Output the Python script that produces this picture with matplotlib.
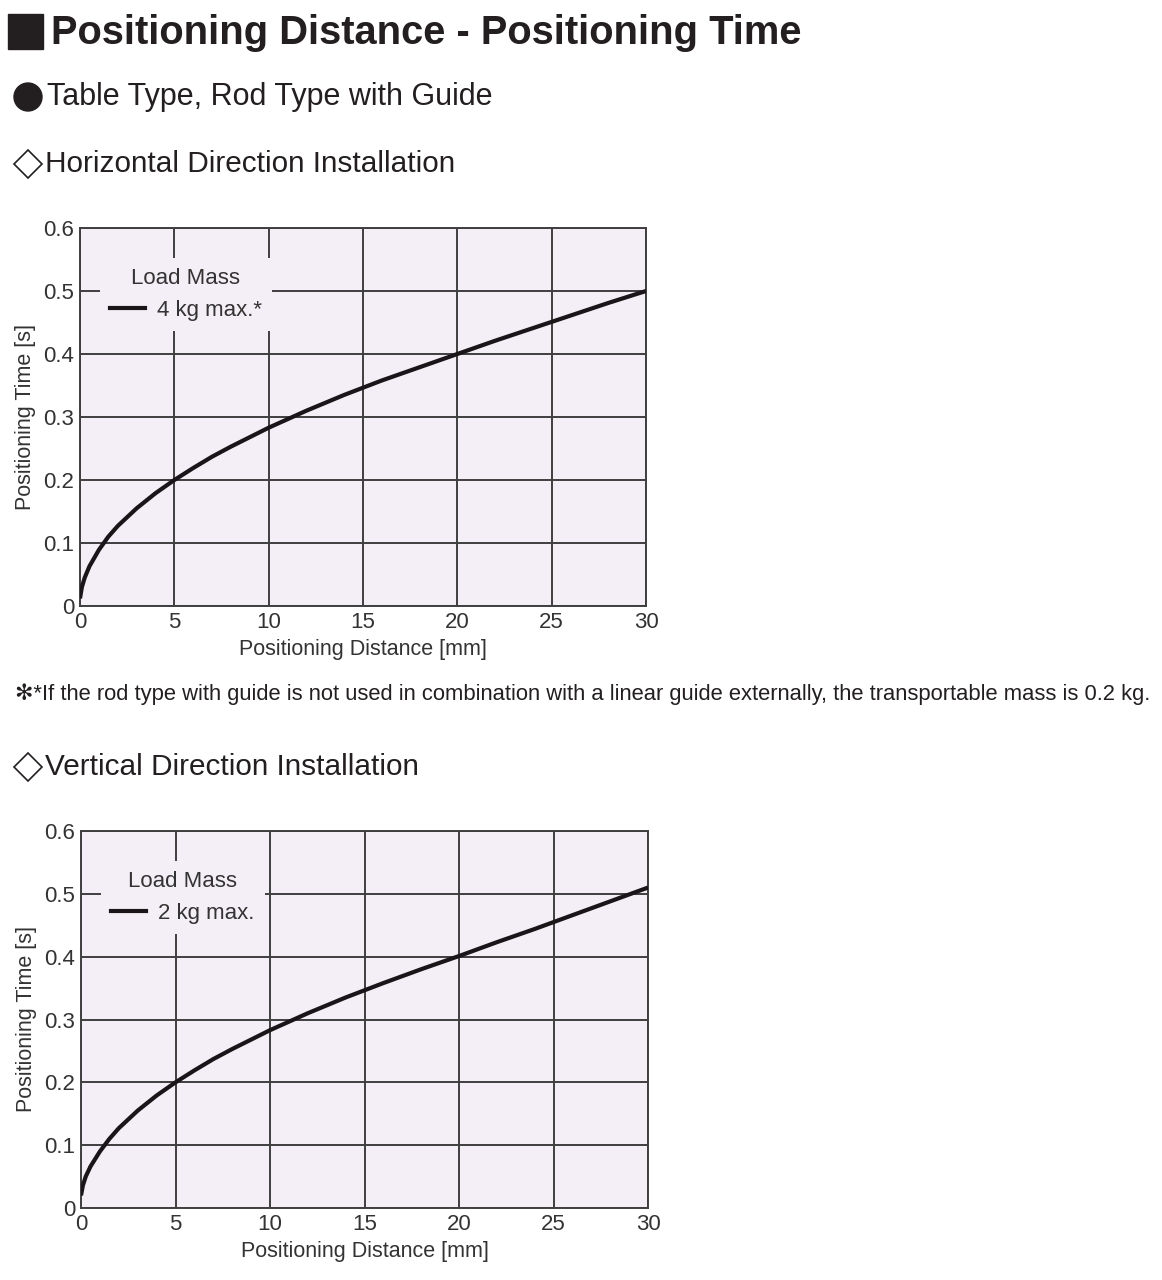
import numpy as np
import matplotlib
matplotlib.use("Agg")
import matplotlib.pyplot as plt
from matplotlib.patches import Rectangle, Ellipse, Polygon

# values
dist_mm = [0, 0.1, 0.25, 0.5, 1, 1.5, 2, 3, 4, 5, 6, 7, 8, 9, 10, 12, 14, 16, 18, 20, 22, 24, 26, 28, 30]
time_horiz = [0.012, 0.030, 0.045, 0.063, 0.089, 0.110, 0.127, 0.155, 0.179, 0.200, 0.219,
              0.237, 0.253, 0.268, 0.283, 0.310, 0.335, 0.358, 0.379, 0.400, 0.421,
              0.441, 0.461, 0.481, 0.500]
time_vert = [0.020, 0.036, 0.050, 0.066, 0.090, 0.110, 0.127, 0.155, 0.179, 0.200, 0.219,
             0.237, 0.253, 0.268, 0.283, 0.310, 0.335, 0.358, 0.380, 0.401, 0.423,
             0.444, 0.466, 0.488, 0.510]
x_ticks = [0, 5, 10, 15, 20, 25, 30]
y_ticks = [0, 0.1, 0.2, 0.3, 0.4, 0.5, 0.6]
y_labels = ["0", "0.1", "0.2", "0.3", "0.4", "0.5", "0.6"]

W, H = 1162, 1280
BG = "#f4eef6"
INK = "#231f20"
sans = ["Liberation Sans", "DejaVu Sans"]

fig = plt.figure(figsize=(W / 100, H / 100), dpi=100)
fig.patch.set_facecolor("white")


def px(x, y):
    return x / W, 1 - y / H


def draw_chart(left, top, right, bottom, y, label):
    ax = fig.add_axes([left / W, 1 - bottom / H, (right - left) / W, (bottom - top) / H])
    ax.set_facecolor(BG)
    ax.plot(dist_mm, y, color="#1a1518", lw=3, solid_capstyle="butt", zorder=3)
    ax.set_xlim(0, 30)
    ax.set_ylim(0, 0.6)
    ax.set_xticks(x_ticks)
    ax.set_yticks(y_ticks)
    ax.set_yticklabels(y_labels)
    ax.grid(True, color="#3f3f3f", lw=1.4)
    ax.set_axisbelow(True)
    ax.tick_params(length=0, pad=4, labelsize=16, colors="#333333")
    for t in ax.get_xticklabels() + ax.get_yticklabels():
        t.set_family(sans)
    for s in ax.spines.values():
        s.set_color("#3f3f3f")
        s.set_linewidth(1.4)
    ax.set_xlabel("Positioning Distance [mm]", family=sans, fontsize=15.5, color="#333333", labelpad=5)
    ax.set_ylabel("Positioning Time [s]", family=sans, fontsize=15.5, color="#333333", labelpad=5)
    line, = ax.plot([], [], color="#1a1518", lw=3)
    leg = ax.legend([line], [label], title="Load Mass", loc="upper left",
                    bbox_to_anchor=(0.015, 0.95), frameon=True, facecolor=BG,
                    edgecolor="none", framealpha=1, fancybox=False,
                    handlelength=1.6, handletextpad=0.55, borderpad=0.45,
                    prop={"family": sans, "size": 16})
    leg.get_title().set_family(sans)
    leg.get_title().set_fontsize(16)
    leg.get_title().set_color("#333333")
    for t in leg.get_texts():
        t.set_color("#333333")
    leg.set_zorder(2.5)
    return ax


def diamond(cx, cy, r):
    pts = [px(cx, cy - r), px(cx + r, cy), px(cx, cy + r), px(cx - r, cy)]
    fig.add_artist(Polygon(pts, closed=True, transform=fig.transFigure,
                           facecolor="white", edgecolor=INK, lw=1.2))


# headings
x0, y0 = px(8, 49)
fig.add_artist(Rectangle((x0, y0), 35 / W, 35 / H, transform=fig.transFigure, color=INK))
fig.text(*px(51, 33), "Positioning Distance - Positioning Time", fontsize=28.7, weight="bold",
         family=sans, va="center", ha="left", color=INK)
fig.add_artist(Ellipse(px(28, 97), 28 / W, 28 / H, transform=fig.transFigure, color=INK))
fig.text(*px(47, 97), "Table Type, Rod Type with Guide", fontsize=22, family=sans,
         va="center", ha="left", color=INK)
diamond(28, 164, 14)
fig.text(*px(45, 164), "Horizontal Direction Installation", fontsize=21.4, family=sans,
         va="center", ha="left", color=INK)
diamond(28, 767, 14)
fig.text(*px(45, 767), "Vertical Direction Installation", fontsize=21.4, family=sans,
         va="center", ha="left", color=INK)
fig.text(*px(15, 694), "\u273b*If the rod type with guide is not used in combination with a linear guide externally, the transportable mass is 0.2 kg.",
         fontsize=15.8, family=sans, va="center", ha="left", color=INK)

draw_chart(80, 228, 646, 606, time_horiz, "4 kg max.*")
draw_chart(81, 831, 648, 1208, time_vert, "2 kg max.")

fig.savefig("out.png", dpi=100, facecolor="white")
